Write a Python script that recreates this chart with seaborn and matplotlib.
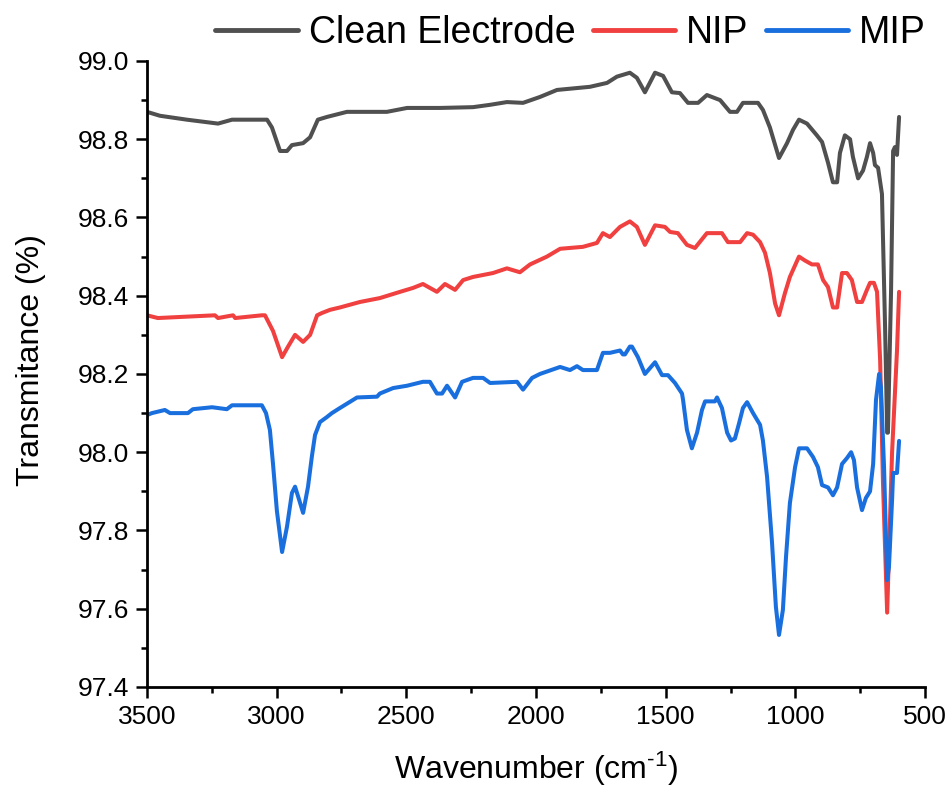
import matplotlib
matplotlib.use("Agg")
import matplotlib.pyplot as plt
from matplotlib.ticker import MultipleLocator
import seaborn as sns
import pandas as pd

# ---------------- data ----------------
clean_wn = [3500, 3450, 3346, 3226, 3172, 3037, 3018, 2987, 2960, 2941, 2898, 2871, 2841, 2806,
            2729, 2575, 2497, 2370, 2243, 2177, 2112, 2050, 1985, 1919, 1792, 1726, 1688, 1638,
            1611, 1580, 1541, 1510, 1476, 1445, 1414, 1375, 1341, 1290, 1252, 1225, 1202, 1144,
            1125, 1098, 1063, 1032, 1009, 986, 955, 917, 897, 874, 855, 839, 828, 809, 789, 778,
            758, 739, 724, 712, 700, 693, 681, 666, 654, 646, 643, 631, 623, 616, 608, 600]
clean_t = [98.87, 98.86, 98.85, 98.84, 98.85, 98.85, 98.83, 98.77, 98.77, 98.785, 98.79, 98.805,
           98.85, 98.857, 98.87, 98.87, 98.88, 98.88, 98.882, 98.888, 98.895, 98.893, 98.908,
           98.926, 98.934, 98.944, 98.96, 98.97, 98.957, 98.92, 98.97, 98.962, 98.92, 98.918,
           98.893, 98.893, 98.913, 98.90, 98.87, 98.87, 98.893, 98.893, 98.875, 98.83, 98.752,
           98.79, 98.824, 98.85, 98.84, 98.81, 98.793, 98.74, 98.69, 98.69, 98.765, 98.81, 98.80,
           98.755, 98.70, 98.72, 98.755, 98.79, 98.765, 98.734, 98.727, 98.66, 98.32, 98.05,
           98.05, 98.41, 98.77, 98.78, 98.76, 98.857]

nip_wn = [3500, 3458, 3238, 3226, 3168, 3160, 3057, 3045, 3014, 2979, 2956, 2929, 2898, 2871,
          2844, 2825, 2794, 2756, 2679, 2602, 2524, 2474, 2436, 2382, 2351, 2312, 2281, 2243,
          2166, 2112, 2062, 2023, 1958, 1907, 1819, 1765, 1742, 1715, 1676, 1638, 1611, 1580,
          1541, 1503, 1483, 1453, 1418, 1387, 1341, 1283, 1260, 1213, 1186, 1163, 1136, 1117,
          1098, 1078, 1063, 1040, 1021, 986, 963, 936, 913, 893, 874, 855, 839, 820, 801, 782,
          762, 743, 724, 712, 697, 685, 673, 662, 646, 627, 608, 600]
nip_t = [98.35, 98.343, 98.35, 98.343, 98.35, 98.343, 98.35, 98.35, 98.31, 98.243, 98.27, 98.30,
         98.282, 98.30, 98.35, 98.356, 98.364, 98.37, 98.384, 98.394, 98.41, 98.42, 98.43, 98.41,
         98.43, 98.415, 98.44, 98.448, 98.458, 98.47, 98.46, 98.48, 98.50, 98.52, 98.525, 98.535,
         98.56, 98.55, 98.576, 98.59, 98.576, 98.53, 98.58, 98.576, 98.563, 98.56, 98.53, 98.522,
         98.56, 98.56, 98.537, 98.537, 98.56, 98.556, 98.537, 98.51, 98.458, 98.38, 98.35,
         98.407, 98.448, 98.50, 98.49, 98.48, 98.48, 98.44, 98.422, 98.37, 98.37, 98.458,
         98.458, 98.44, 98.384, 98.384, 98.415, 98.433, 98.433, 98.41, 98.235, 97.92, 97.59,
         98.0, 98.26, 98.41]

mip_wn = [3500, 3481, 3431, 3411, 3342, 3323, 3249, 3192, 3172, 3057, 3041, 3026, 3014, 2999,
          2979, 2960, 2941, 2929, 2914, 2898, 2879, 2864, 2852, 2833, 2806, 2787, 2756, 2690,
          2613, 2602, 2551, 2497, 2436, 2409, 2382, 2362, 2343, 2312, 2285, 2243, 2204, 2177,
          2073, 2050, 2015, 1985, 1907, 1869, 1842, 1819, 1765, 1742, 1715, 1676, 1665, 1657,
          1638, 1630, 1607, 1580, 1541, 1514, 1491, 1464, 1437, 1433, 1418, 1399, 1379, 1360,
          1348, 1310, 1302, 1283, 1263, 1248, 1233, 1217, 1202, 1186, 1163, 1136, 1125, 1109,
          1090, 1075, 1063, 1048, 1036, 1021, 1001, 986, 955, 932, 913, 897, 874, 855, 839, 820,
          801, 785, 774, 762, 743, 728, 712, 700, 689, 677, 670, 658, 646, 639, 627, 623, 608, 600]
mip_t = [98.095, 98.10, 98.108, 98.10, 98.10, 98.11, 98.115, 98.11, 98.12, 98.12, 98.10, 98.057,
         97.97, 97.85, 97.745, 97.81, 97.896, 97.912, 97.88, 97.845, 97.912, 97.99, 98.044,
         98.077, 98.09, 98.10, 98.113, 98.14, 98.142, 98.15, 98.164, 98.17, 98.18, 98.18, 98.15,
         98.15, 98.17, 98.14, 98.18, 98.19, 98.19, 98.177, 98.18, 98.16, 98.19, 98.20, 98.218,
         98.21, 98.22, 98.21, 98.21, 98.254, 98.254, 98.26, 98.25, 98.25, 98.27, 98.27, 98.243,
         98.20, 98.23, 98.197, 98.197, 98.177, 98.15, 98.134, 98.057, 98.01, 98.05, 98.108,
         98.13, 98.13, 98.14, 98.113, 98.05, 98.03, 98.035, 98.074, 98.113, 98.128, 98.10,
         98.07, 98.03, 97.937, 97.77, 97.605, 97.533, 97.597, 97.732, 97.87, 97.962, 98.01,
         98.01, 97.988, 97.962, 97.916, 97.91, 97.89, 97.91, 97.97, 97.985, 98.0, 97.98, 97.91,
         97.852, 97.883, 97.90, 97.97, 98.134, 98.20, 98.167, 97.962, 97.673, 97.707, 97.878,
         97.947, 97.947, 98.029]

series_names = ["Clean Electrode", "NIP", "MIP"]
series_colors = ["#505050", "#F04040", "#1A6FDF"]
x_ticks = [3500, 3000, 2500, 2000, 1500, 1000, 500]
y_ticks = [97.4, 97.6, 97.8, 98.0, 98.2, 98.4, 98.6, 98.8, 99.0]

# ---------------- styling ----------------
sns.set_theme(style="ticks")
plt.rcParams["font.family"] = ["Liberation Sans", "DejaVu Sans"]
plt.rcParams["mathtext.fontset"] = "custom"
plt.rcParams["mathtext.rm"] = "Liberation Sans"
plt.rcParams["mathtext.it"] = "Liberation Sans"
plt.rcParams["mathtext.default"] = "regular"
plt.rcParams["text.color"] = "black"
plt.rcParams["axes.labelcolor"] = "black"
plt.rcParams["xtick.color"] = "black"
plt.rcParams["ytick.color"] = "black"

fig = plt.figure(figsize=(9.5, 7.87), dpi=100)
ax = fig.add_axes([0.1547, 0.1271, 0.819, 0.7954])

frames = []
for name, wn, t in zip(series_names, [clean_wn, nip_wn, mip_wn], [clean_t, nip_t, mip_t]):
    frames.append(pd.DataFrame({"wn": wn, "T": t, "series": name}))
df = pd.concat(frames, ignore_index=True)

sns.lineplot(data=df, x="wn", y="T", hue="series", hue_order=series_names,
             palette=series_colors, linewidth=2.9, sort=False, estimator=None,
             ax=ax, legend=True)

ax.set_xlim(3500, 500)
ax.set_ylim(97.4, 99.0)
ax.set_xticks(x_ticks)
ax.set_yticks(y_ticks)
ax.set_yticklabels([f"{v:.1f}" for v in y_ticks])
ax.xaxis.set_minor_locator(MultipleLocator(250))
ax.yaxis.set_minor_locator(MultipleLocator(0.1))

for s in ["top", "right"]:
    ax.spines[s].set_visible(False)
for s in ["left", "bottom"]:
    ax.spines[s].set_linewidth(2.0)
    ax.spines[s].set_color("black")

ax.tick_params(axis="both", which="major", direction="out", length=8, width=1.8,
               labelsize=19, pad=5, color="black", labelcolor="black")
ax.tick_params(axis="both", which="minor", direction="out", length=4.5, width=1.8,
               color="black")

ax.set_xlabel(r"Wavenumber (cm$^{\text{-}1}$)", fontsize=23, labelpad=15, color="black")
ax.set_ylabel("Transmitance (%)", fontsize=23, color="black")
ax.yaxis.set_label_coords(-0.1295, 0.522)

handles, labels = ax.get_legend_handles_labels()
ax.get_legend().remove()
for h in handles:
    h.set_linewidth(3.5)
fig.legend(handles, labels, loc="center right", bbox_to_anchor=(0.975, 0.958),
           ncol=3, frameon=False, fontsize=27, handlelength=2.2, handletextpad=0.3,
           columnspacing=0.45, borderpad=0, borderaxespad=0, labelcolor="black")

fig.savefig("out.png", dpi=100)
